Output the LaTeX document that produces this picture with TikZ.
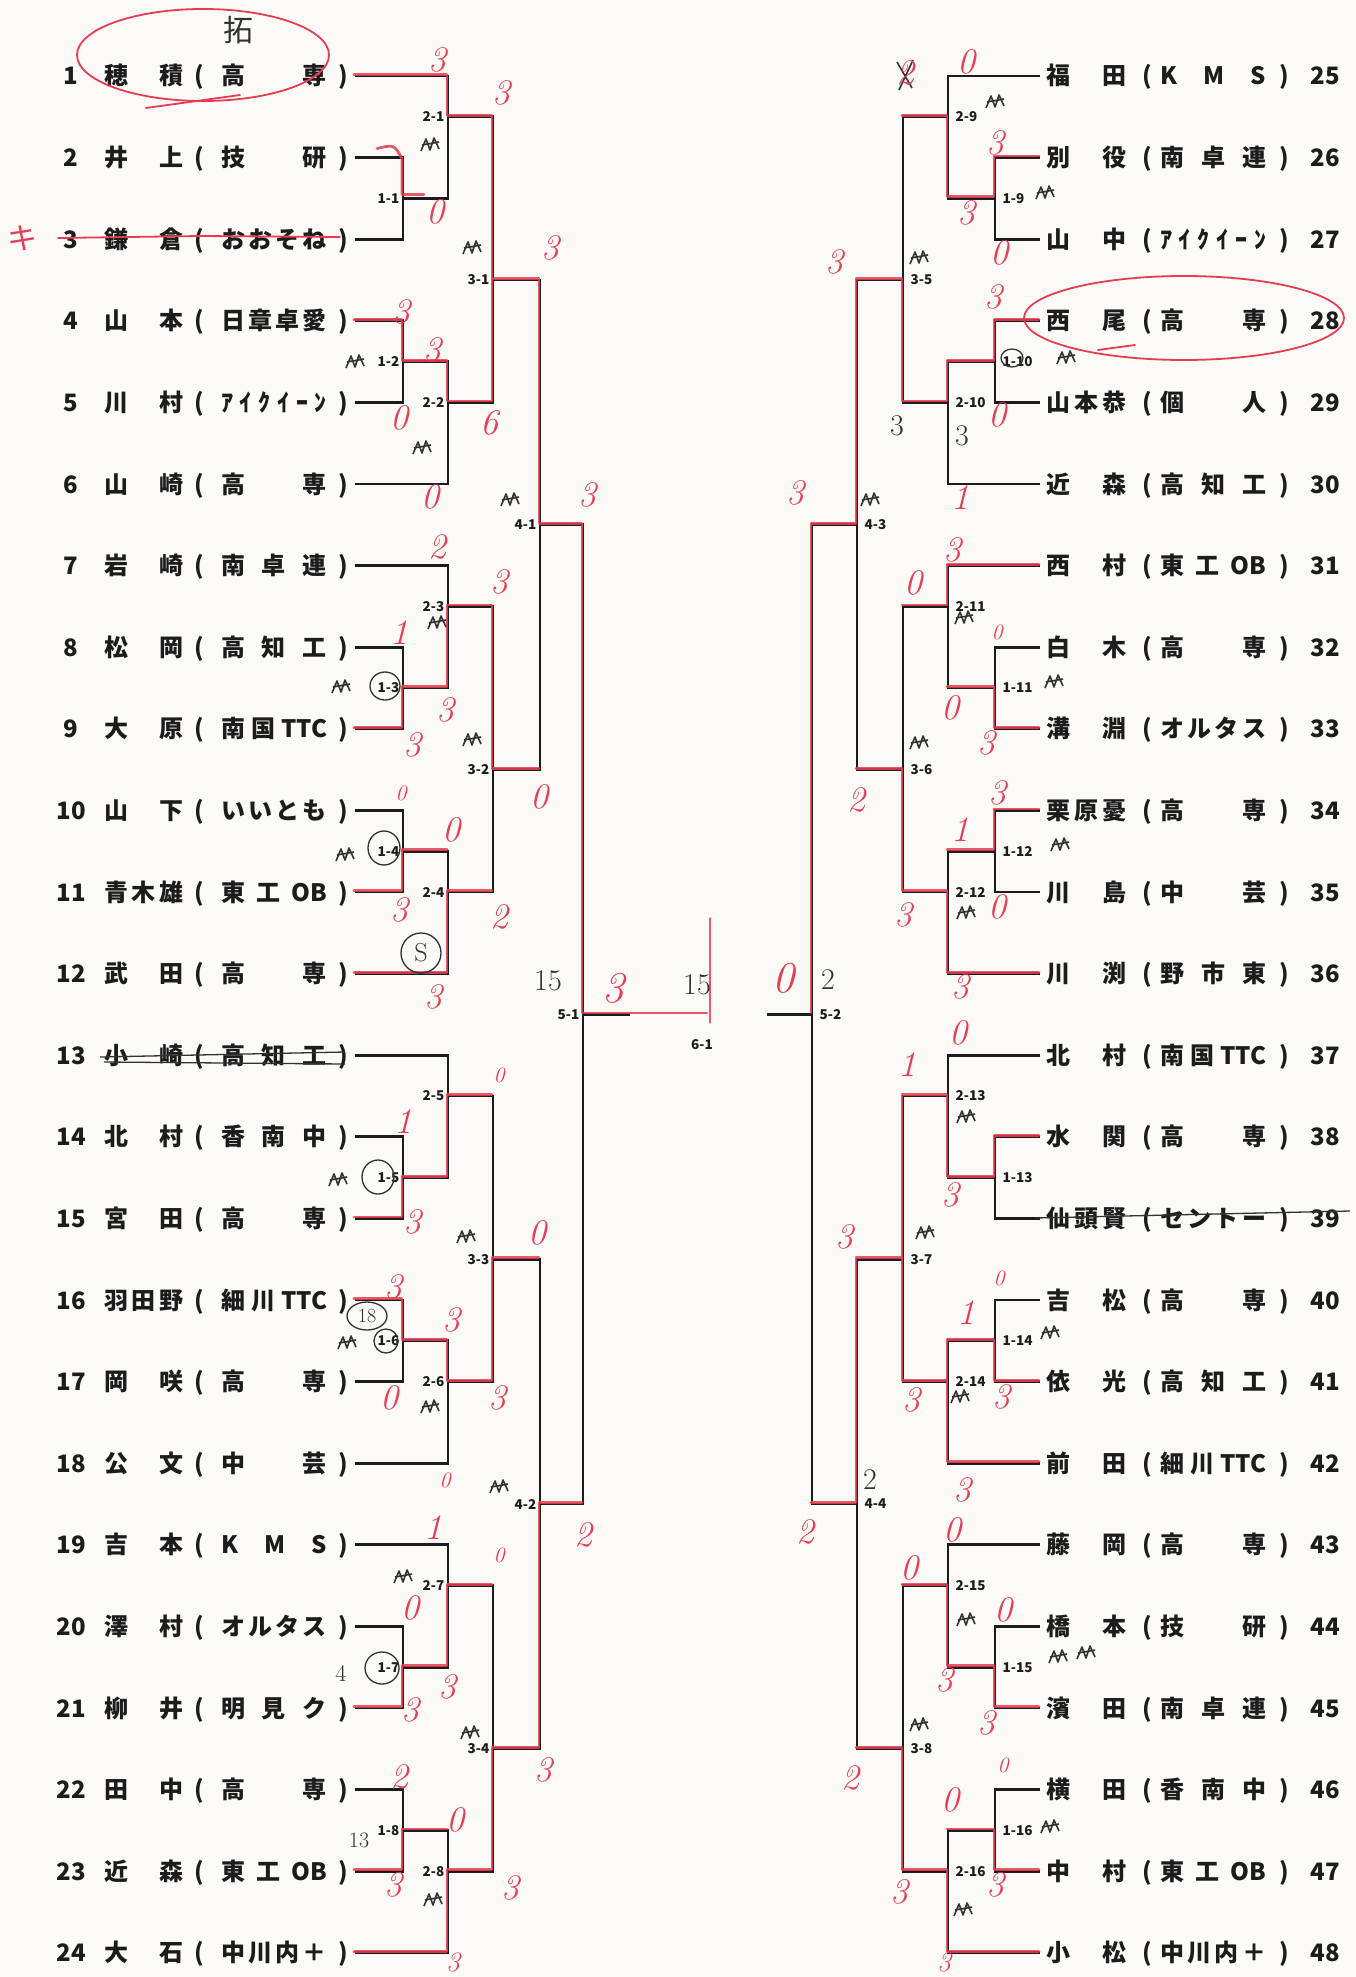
\documentclass[tikz,border=0pt]{standalone}
\usepackage{fontspec}
\newfontfamily\jp{Noto Sans CJK JP}
\usetikzlibrary{calc}
\definecolor{paper}{RGB}{251,250,247}
\definecolor{ink}{RGB}{28,28,28}
\definecolor{redpen}{RGB}{232,60,82}
\definecolor{pencil}{RGB}{50,50,50}
\makeatletter
\newcommand\spreadbox[2]{\hbox to #1{\def\spr@sep{}\@tfor\spr@c:=#2\do{\spr@sep\spr@c\def\spr@sep{\hfill}}}}
\makeatother
\tikzset{
 txt/.style={font=\jp\bfseries\fontsize{24}{24}\selectfont, text=ink, inner sep=0pt, anchor=base},
 lab/.style={font=\jp\bfseries\fontsize{13.5}{13.5}\selectfont, text=ink, inner sep=1.5pt},
 br/.style={draw=ink, line width=2.8pt},
 win/.style={draw=redpen, line width=2.8pt, opacity=0.85, line join=round, line cap=round, transform canvas={xshift=-1pt,yshift=1.5pt}},
 hand/.style={font=\fontsize{36}{36}\selectfont\itshape, text=redpen, inner sep=0pt},
 handsm/.style={font=\fontsize{22}{22}\selectfont\itshape, text=redpen, inner sep=0pt},
 pen/.style={font=\fontsize{30}{30}\selectfont, text=pencil, inner sep=0pt},
 redline/.style={draw=redpen, line width=1.8pt, line cap=round},
 pencilline/.style={draw=pencil, line width=1.3pt},
 declare function={Y(\r)=76+(\r-1)*81.6;}
}
\newcommand\lent[3]{%
 \node[txt] (n#1) at (71,{Y(#1)+9}) {#1};
 \node[txt] (a#1) at (144,{Y(#1)+9}) {\spreadbox{80pt}{#2}};
 \node[txt] (p#1) at (199,{Y(#1)+9}) {(};
 \node[txt] (t#1) at (274,{Y(#1)+9}) {\spreadbox{106pt}{#3}};
 \node[txt] (q#1) at (343,{Y(#1)+9}) {)};
 \coordinate (e#1) at (355,{Y(#1)});}
\newcommand\rent[4]{%
 \node[txt] (a#1) at (1086,{Y(#2)+9}) {\spreadbox{80pt}{#3}};
 \node[txt] (p#1) at (1147,{Y(#2)+9}) {(};
 \node[txt] (t#1) at (1213,{Y(#2)+9}) {\spreadbox{106pt}{#4}};
 \node[txt] (q#1) at (1284,{Y(#2)+9}) {)};
 \node[txt] (n#1) at (1325,{Y(#2)+9}) {#1};
 \coordinate (e#1) at (1040,{Y(#2)});}
\newcommand\scrib[2]{\draw[pencilline, line width=1.6pt, line join=round] (#1-9,#2+6) -- (#1-4,#2-6) -- (#1,#2+5) -- (#1+4,#2-7) -- (#1+9,#2+4) (#1-8,#2) -- (#1+9,#2-3);}
\begin{document}
\begin{tikzpicture}[x=1pt,y=-1pt]
\useasboundingbox (0,0) rectangle (1356,1977);
\fill[paper] (0,0) rectangle (1356,1977);
% ---------- entries left
\lent{1}{穂積}{高専}
\lent{2}{井上}{技研}
\lent{3}{鎌倉}{おおそね}
\lent{4}{山本}{日章卓愛}
\lent{5}{川村}{ｱｲｸｲｰﾝ}
\lent{6}{山崎}{高専}
\lent{7}{岩崎}{南卓連}
\lent{8}{松岡}{高知工}
\lent{9}{大原}{南国{TTC}}
\lent{10}{山下}{いいとも}
\lent{11}{青木雄}{東工{OB}}
\lent{12}{武田}{高専}
\lent{13}{小崎}{高知工}
\lent{14}{北村}{香南中}
\lent{15}{宮田}{高専}
\lent{16}{羽田野}{細川{TTC}}
\lent{17}{岡咲}{高専}
\lent{18}{公文}{中芸}
\lent{19}{吉本}{KMS}
\lent{20}{澤村}{オルタス}
\lent{21}{柳井}{明見ク}
\lent{22}{田中}{高専}
\lent{23}{近森}{東工{OB}}
\lent{24}{大石}{中川内＋}
% ---------- entries right
\rent{25}{1}{福田}{KMS}
\rent{26}{2}{別役}{南卓連}
\rent{27}{3}{山中}{ｱｲｸｲｰﾝ}
\rent{28}{4}{西尾}{高専}
\rent{29}{5}{山本恭}{個人}
\rent{30}{6}{近森}{高知工}
\rent{31}{7}{西村}{東工{OB}}
\rent{32}{8}{白木}{高専}
\rent{33}{9}{溝淵}{オルタス}
\rent{34}{10}{栗原憂}{高専}
\rent{35}{11}{川島}{中芸}
\rent{36}{12}{川渕}{野市東}
\rent{37}{13}{北村}{南国{TTC}}
\rent{38}{14}{水関}{高専}
\rent{39}{15}{仙頭賢}{セントー}
\rent{40}{16}{吉松}{高専}
\rent{41}{17}{依光}{高知工}
\rent{42}{18}{前田}{細川{TTC}}
\rent{43}{19}{藤岡}{高専}
\rent{44}{20}{橋本}{技研}
\rent{45}{21}{濱田}{南卓連}
\rent{46}{22}{横田}{香南中}
\rent{47}{23}{中村}{東工{OB}}
\rent{48}{24}{小松}{中川内＋}
% ---------- left bracket
\foreach \k in {0,1,2,3}{
 \pgfmathtruncatemacro\ea{6*\k+1}\pgfmathtruncatemacro\eb{6*\k+2}\pgfmathtruncatemacro\ec{6*\k+3}
 \pgfmathtruncatemacro\ed{6*\k+4}\pgfmathtruncatemacro\ee{6*\k+5}\pgfmathtruncatemacro\ef{6*\k+6}
 \pgfmathtruncatemacro\mi{2*\k+1}\pgfmathtruncatemacro\mj{2*\k+2}\pgfmathtruncatemacro\mt{\k+1}
 \coordinate (r1m\mi) at (403,{Y(\ea+1.5)});
 \coordinate (r2m\mi) at (448,{Y(\ea+0.5)});
 \coordinate (r1m\mj) at (403,{Y(\ea+3.5)});
 \coordinate (r2m\mj) at (448,{Y(\ea+4)});
 \coordinate (r3m\mt) at (493,{Y(\ea+2.5)});
 \draw[br] (e\ea) -| (r2m\mi);
 \draw[br] (e\eb) -| (r1m\mi);
 \draw[br] (e\ec) -| (r1m\mi);
 \draw[br] (r1m\mi) -| (r2m\mi);
 \draw[br] (e\ed) -| (r1m\mj);
 \draw[br] (e\ee) -| (r1m\mj);
 \draw[br] (r1m\mj) -| (r2m\mj);
 \draw[br] (e\ef) -| (r2m\mj);
 \draw[br] (r2m\mi) -| (r3m\mt);
 \draw[br] (r2m\mj) -| (r3m\mt);
 \node[lab,anchor=east] (L1m\mi) at ([xshift=-2pt]r1m\mi) {1-\mi};
 \node[lab,anchor=east] (L2m\mi) at ([xshift=-2pt]r2m\mi) {2-\mi};
 \node[lab,anchor=east] (L1m\mj) at ([xshift=-2pt]r1m\mj) {1-\mj};
 \node[lab,anchor=east] (L2m\mj) at ([xshift=-2pt]r2m\mj) {2-\mj};
 \node[lab,anchor=east] (L3m\mt) at ([xshift=-2pt]r3m\mt) {3-\mt};
}
% ---------- right bracket
\foreach \k in {0,1,2,3}{
 \pgfmathtruncatemacro\rb{6*\k+1}
 \pgfmathtruncatemacro\ea{6*\k+25}\pgfmathtruncatemacro\eb{6*\k+26}\pgfmathtruncatemacro\ec{6*\k+27}
 \pgfmathtruncatemacro\ed{6*\k+28}\pgfmathtruncatemacro\ee{6*\k+29}\pgfmathtruncatemacro\ef{6*\k+30}
 \pgfmathtruncatemacro\mi{2*\k+9}\pgfmathtruncatemacro\mj{2*\k+10}\pgfmathtruncatemacro\mt{\k+5}
 \coordinate (r1m\mi) at (995,{Y(\rb+1.5)});
 \coordinate (r2m\mi) at (948,{Y(\rb+0.5)});
 \coordinate (r1m\mj) at (995,{Y(\rb+3.5)});
 \coordinate (r2m\mj) at (948,{Y(\rb+4)});
 \coordinate (r3m\mt) at (903,{Y(\rb+2.5)});
 \draw[br] (e\ea) -| (r2m\mi);
 \draw[br] (e\eb) -| (r1m\mi);
 \draw[br] (e\ec) -| (r1m\mi);
 \draw[br] (r1m\mi) -| (r2m\mi);
 \draw[br] (e\ed) -| (r1m\mj);
 \draw[br] (e\ee) -| (r1m\mj);
 \draw[br] (r1m\mj) -| (r2m\mj);
 \draw[br] (e\ef) -| (r2m\mj);
 \draw[br] (r2m\mi) -| (r3m\mt);
 \draw[br] (r2m\mj) -| (r3m\mt);
 \node[lab,anchor=west] (L1m\mi) at ([xshift=6pt]r1m\mi) {1-\mi};
 \node[lab,anchor=west] (L2m\mi) at ([xshift=6pt]r2m\mi) {2-\mi};
 \node[lab,anchor=west] (L1m\mj) at ([xshift=6pt]r1m\mj) {1-\mj};
 \node[lab,anchor=west] (L2m\mj) at ([xshift=6pt]r2m\mj) {2-\mj};
 \node[lab,anchor=west] (L3m\mt) at ([xshift=6pt]r3m\mt) {3-\mt};
}
% ---------- rounds 4-6
\coordinate (r4m1) at (540,{Y(6.5)});
\coordinate (r4m2) at (540,{Y(18.5)});
\coordinate (r5m1) at (583,{Y(12.5)});
\coordinate (r4m3) at (857,{Y(6.5)});
\coordinate (r4m4) at (857,{Y(18.5)});
\coordinate (r5m2) at (812,{Y(12.5)});
\coordinate (f1) at (630,{Y(12.5)});
\coordinate (f2) at (767,{Y(12.5)});
\draw[br] (r3m1) -| (r4m1); \draw[br] (r3m2) -| (r4m1);
\draw[br] (r3m3) -| (r4m2); \draw[br] (r3m4) -| (r4m2);
\draw[br] (r4m1) -| (r5m1); \draw[br] (r4m2) -| (r5m1);
\draw[br] (r3m5) -| (r4m3); \draw[br] (r3m6) -| (r4m3);
\draw[br] (r3m7) -| (r4m4); \draw[br] (r3m8) -| (r4m4);
\draw[br] (r4m3) -| (r5m2); \draw[br] (r4m4) -| (r5m2);
\draw[br] (r5m1) -- (f1);
\draw[br] (f2) -- (r5m2);
\node[lab,anchor=east] (L4m1) at ([xshift=-2pt]r4m1) {4-1};
\node[lab,anchor=east] (L4m2) at ([xshift=-2pt]r4m2) {4-2};
\node[lab,anchor=east] (L5m1) at ([xshift=-2pt]r5m1) {5-1};
\node[lab,anchor=west] (L4m3) at ([xshift=6pt]r4m3) {4-3};
\node[lab,anchor=west] (L4m4) at ([xshift=6pt]r4m4) {4-4};
\node[lab,anchor=west] (L5m2) at ([xshift=6pt]r5m2) {5-2};
\node[lab] (L6m1) at (702,1045) {6-1};
% ---------- red winner paths
\coordinate (fr) at (708,{Y(12.5)});
\coordinate (fv1) at (711,920);
\coordinate (fv2) at (711,1024);
\draw[win] (e1) -| (r2m1) -| (r3m1) -| (r4m1) -| (r5m1) -- (fr);
\draw[win] (fv1) -- (fv2);
\draw[win] (e4) -| (r1m2) -| (r2m2) -| (r3m1);
\draw[win] (e9) -| (r1m3) -| (r2m3) -| (r3m2) -- (r3m2 -| r4m1);
\draw[win] (e11) -| (r1m4) -- (r1m4 -| r2m4);
\draw[win] (e12) -| (r2m4) -- (r2m4 -| r3m2);
\draw[win] (e15) -| (r1m5) -| (r2m5) -- (r2m5 -| r3m3);
\draw[win] (e16) -| (r1m6) -| (r2m6) -| (r3m3) -- (r3m3 -| r4m2);
\draw[win] (e21) -| (r1m7) -| (r2m7) -- (r2m7 -| r3m4);
\draw[win] (e23) -| (r1m8) -- (r1m8 -| r2m8);
\draw[win] (e24) -| (r2m8) -| (r3m4) -| (r4m2) -- (r4m2 -| r5m1);
\draw[win] (378,150) .. controls (395,146) .. (403,160) -- (403,196) -- (425,196);
\draw[win] (e26) -| (r1m9) -| (r2m9) -- (r2m9 -| r3m5);
\draw[win] (e28) -| (r1m10) -| (r2m10) -| (r3m5) -| (r4m3) -| (r5m2);
\draw[win] (e31) -| (r2m11) -- (r2m11 -| r3m6);
\draw[win] (e33) -| (r1m11) -- (r1m11 -| r2m11);
\draw[win] (e34) -| (r1m12) -- (r1m12 -| r2m12);
\draw[win] (e36) -| (r2m12) -| (r3m6) -- (r3m6 -| r4m3);
\draw[win] (e38) -| (r1m13) -| (r2m13) -| (r3m7) -| (r4m4) -- (r4m4 -| r5m2);
\draw[win] (e41) -| (r1m14) -| (r2m14);
\draw[win] (e42) -| (r2m14) -| (r3m7);
\draw[win] (e45) -| (r1m15) -| (r2m15) -- (r2m15 -| r3m8);
\draw[win] (e47) -| (r1m16) -- (r1m16 -| r2m16);
\draw[win] (e48) -| (r2m16) -| (r3m8) -- (r3m8 -| r4m4);
% ---------- strike-outs, ovals
\draw[redline] (58,238) -- (200,236) -- (340,237);
\node[font=\jp\fontsize{30}{30}\selectfont, text=redpen] (ki) at (22,238) {キ};
\draw[pencilline] (100,1057) -- (345,1052);
\draw[pencilline] (104,1062) -- (345,1064);
\draw[pencilline] (1035,1218) -- (1350,1211);
\draw[redline] (203,55) ellipse [x radius=126, y radius=46];
\draw[redline] (146,108) -- (240,95);
\draw[redline] (1184,318) ellipse [x radius=160, y radius=42];
\draw[redline] (1098,350) -- (1135,345);
\node[font=\jp\fontsize{30}{30}\selectfont, text=pencil] (taku) at (238,30) {拓};
% ---------- pencil circles and notes
\draw[pencilline] (385,686) ellipse [x radius=15, y radius=14];
\draw[pencilline] (384,848) ellipse [x radius=16, y radius=17];
\draw[pencilline] (378,1177) ellipse [x radius=16, y radius=17];
\draw[pencilline] (386,1341) ellipse [x radius=12, y radius=12];
\draw[pencilline] (367,1316) ellipse [x radius=20, y radius=14];
\node[font=\fontsize{20}{20}\selectfont, text=pencil] (n18) at (367,1316) {18};
\draw[pencilline] (382,1668) ellipse [x radius=17, y radius=16];
\draw[pencilline] (1012,358) ellipse [x radius=11, y radius=9];
\draw[pencilline] (421,953) ellipse [x radius=20, y radius=20];
\node[font=\fontsize{26}{26}\selectfont, text=pencil] (cS) at (421,953) {S};
\node[pen] (b1) at (548,981) {15};
\node[pen] (b2) at (697,985) {15};
\node[pen] (b3) at (828,980) {2};
\node[pen] (b4) at (870,1480) {2};
\node[pen] (b5) at (962,436) {3};
\node[pen] (b6) at (897,426) {3};
\node[pen,font=\fontsize{22}{22}\selectfont] (b7) at (359,1840) {13};
\node[pen,font=\fontsize{24}{24}\selectfont] (b8) at (341,1673) {4};
\draw[pencilline, line width=1.6pt] (897,62) -- (912,88) (913,60) -- (899,90);
% scribbled initials
\scrib{430}{145} \scrib{472}{248} \scrib{355}{362} \scrib{422}{448} \scrib{510}{500}
\scrib{437}{623} \scrib{341}{687} \scrib{472}{740} \scrib{345}{855}
\scrib{338}{1180} \scrib{466}{1237} \scrib{347}{1343} \scrib{430}{1407} \scrib{499}{1487}
\scrib{403}{1577} \scrib{470}{1733} \scrib{433}{1900}
\scrib{995}{102} \scrib{1045}{193} \scrib{919}{258} \scrib{1066}{358}
\scrib{964}{618} \scrib{1054}{682} \scrib{919}{743} \scrib{1060}{845} \scrib{966}{913} \scrib{870}{500}
\scrib{966}{1117} \scrib{925}{1233} \scrib{1050}{1333} \scrib{960}{1397}
\scrib{966}{1620} \scrib{1058}{1657} \scrib{1086}{1653} \scrib{919}{1725} \scrib{1050}{1827} \scrib{963}{1910}
% ---------- red scores left
\node[hand] (s1) at (437,60) {3};
\node[hand] (s2) at (501,93) {3};
\node[hand] (s3) at (435,212) {0};
\node[hand] (s4) at (550,248) {3};
\node[hand] (s5) at (401,312) {3};
\node[hand] (s6) at (432,350) {3};
\node[hand] (s7) at (399,418) {0};
\node[hand] (s8) at (489,423) {6};
\node[hand] (s9) at (430,497) {0};
\node[hand] (s10) at (587,495) {3};
\node[hand] (s11) at (437,547) {2};
\node[hand] (s12) at (499,582) {3};
\node[hand] (s13) at (399,633) {1};
\node[hand] (s14) at (445,710) {3};
\node[hand] (s15) at (412,745) {3};
\node[hand] (s16) at (539,797) {0};
\node[handsm] (s17) at (401,793) {0};
\node[hand] (s18) at (451,830) {0};
\node[hand] (s19) at (399,910) {3};
\node[hand] (s20) at (499,917) {2};
\node[hand] (s21) at (433,997) {3};
\node[handsm] (s22) at (499,1075) {0};
\node[hand] (s23) at (403,1122) {1};
\node[hand] (s24) at (412,1222) {3};
\node[hand] (s25) at (537,1233) {0};
\node[hand] (s26) at (393,1287) {3};
\node[hand] (s27) at (451,1320) {3};
\node[hand] (s28) at (389,1398) {0};
\node[hand] (s29) at (497,1398) {3};
\node[handsm] (s30) at (445,1480) {0};
\node[hand] (s31) at (433,1528) {1};
\node[handsm] (s32) at (499,1555) {0};
\node[hand] (s33) at (583,1535) {2};
\node[hand] (s34) at (410,1608) {0};
\node[hand] (s35) at (447,1687) {3};
\node[hand] (s36) at (410,1710) {3};
\node[hand] (s37) at (543,1770) {3};
\node[hand] (s38) at (399,1777) {2};
\node[hand] (s39) at (455,1820) {0};
\node[hand] (s40) at (393,1885) {3};
\node[hand] (s41) at (510,1888) {3};
\node[hand,font=\fontsize{28}{28}\selectfont\itshape] (s42) at (453,1962) {3};
\node[hand,font=\fontsize{44}{44}\selectfont\itshape] (s43) at (613,988) {3};
\node[hand,font=\fontsize{44}{44}\selectfont\itshape] (s44) at (783,978) {0};
% ---------- red scores right
\node[hand] (s45) at (905,73) {2};
\node[hand] (s46) at (966,62) {0};
\node[hand] (s47) at (995,143) {3};
\node[hand] (s48) at (966,213) {3};
\node[hand] (s49) at (999,253) {0};
\node[hand] (s50) at (834,262) {3};
\node[hand] (s51) at (993,297) {3};
\node[hand] (s52) at (997,415) {0};
\node[hand] (s53) at (795,493) {3};
\node[hand] (s54) at (960,498) {1};
\node[hand] (s55) at (952,550) {3};
\node[hand] (s56) at (913,583) {0};
\node[handsm] (s57) at (997,632) {0};
\node[hand] (s58) at (950,708) {0};
\node[hand] (s59) at (986,743) {3};
\node[hand] (s60) at (856,800) {2};
\node[hand] (s61) at (997,793) {3};
\node[hand] (s62) at (960,830) {1};
\node[hand] (s63) at (997,907) {0};
\node[hand] (s64) at (903,915) {3};
\node[hand] (s65) at (960,987) {3};
\node[hand] (s66) at (958,1033) {0};
\node[hand] (s67) at (907,1065) {1};
\node[hand] (s68) at (950,1195) {3};
\node[hand] (s69) at (844,1237) {3};
\node[handsm] (s70) at (999,1278) {0};
\node[hand] (s71) at (966,1313) {1};
\node[hand] (s72) at (911,1400) {3};
\node[hand] (s73) at (1001,1397) {3};
\node[hand] (s74) at (962,1490) {3};
\node[hand] (s75) at (805,1532) {2};
\node[hand] (s76) at (952,1530) {0};
\node[hand] (s77) at (909,1568) {0};
\node[hand] (s78) at (1003,1610) {0};
\node[hand] (s79) at (944,1680) {3};
\node[hand] (s80) at (986,1723) {3};
\node[hand] (s81) at (850,1778) {2};
\node[handsm] (s82) at (1003,1765) {0};
\node[hand] (s83) at (950,1800) {0};
\node[hand] (s84) at (899,1892) {3};
\node[hand] (s85) at (995,1885) {3};
\node[hand,font=\fontsize{28}{28}\selectfont\itshape] (s86) at (944,1962) {3};
\end{tikzpicture}
\end{document}
